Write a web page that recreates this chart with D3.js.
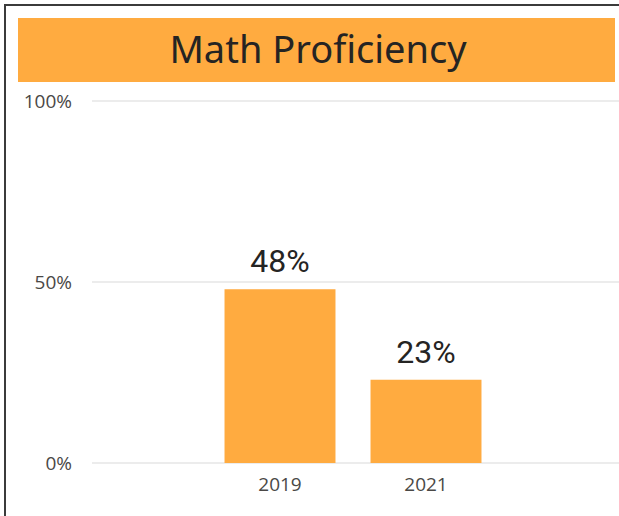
<!DOCTYPE html>
<html>
<head>
<meta charset="utf-8">
<script src="https://cdn.jsdelivr.net/npm/d3@7"></script>
<style>
  body { margin: 0; background: #fff; }
  svg { display: block; }
</style>
</head>
<body>
<svg id="chart"></svg>
<script>
const title = "Math Proficiency";
const years = ["2019", "2021"];
const proficiency = [0.48, 0.23];
const yTicks = [0, 0.5, 1];

const W = 619, H = 516;
const orange = "#FFAB40";

const svg = d3.select("#chart")
    .attr("width", W)
    .attr("height", H);

// visual frame (only top and left edges are in view)
svg.append("path")
    .attr("d", `M5,${H} V5 H${W}`)
    .attr("fill", "none")
    .attr("stroke", "#3b3b3b")
    .attr("stroke-width", 2);

// title banner
svg.append("rect")
    .attr("x", 18)
    .attr("y", 18)
    .attr("width", 597)
    .attr("height", 64)
    .attr("fill", orange);

svg.append("text")
    .attr("x", 318)
    .attr("y", 63)
    .attr("text-anchor", "middle")
    .attr("font-family", "'Noto Sans', 'Open Sans', sans-serif")
    .attr("font-size", 38)
    .attr("fill", "#252423")
    .text(title);

// scales
const y = d3.scaleLinear()
    .domain([0, 1])
    .range([463, 101]);

const x = d3.scaleBand()
    .domain(years)
    .range([207, 499])
    .paddingInner(0.24)
    .paddingOuter(0.12);

// gridlines
svg.append("g")
    .selectAll("line")
    .data(yTicks)
    .join("line")
    .attr("x1", 92)
    .attr("x2", W)
    .attr("y1", d => y(d))
    .attr("y2", d => y(d))
    .attr("stroke", "#ececec")
    .attr("stroke-width", 2);

// y axis labels
const yAxis = svg.append("g")
    .attr("transform", "translate(72,0)")
    .call(d3.axisLeft(y).tickValues(yTicks).tickFormat(d3.format(".0%")).tickSize(0).tickPadding(0));
yAxis.select(".domain").remove();
yAxis.selectAll("text")
    .attr("font-family", "'Open Sans', sans-serif")
    .attr("font-size", 19)
    .attr("fill", "#4a4846");

// x axis labels
const xAxis = svg.append("g")
    .attr("transform", "translate(0,463)")
    .call(d3.axisBottom(x).tickSize(0).tickPadding(15));
xAxis.select(".domain").remove();
xAxis.selectAll("text")
    .attr("font-family", "'Open Sans', sans-serif")
    .attr("font-size", 19)
    .attr("fill", "#4a4846");

// bars
const data = years.map((yr, i) => ({ year: yr, value: proficiency[i] }));

svg.append("g")
    .selectAll("rect")
    .data(data)
    .join("rect")
    .attr("x", d => x(d.year))
    .attr("y", d => y(d.value))
    .attr("width", x.bandwidth())
    .attr("height", d => y(0) - y(d.value))
    .attr("fill", orange);

// data labels
svg.append("g")
    .selectAll("text")
    .data(data)
    .join("text")
    .attr("x", d => x(d.year) + x.bandwidth() / 2)
    .attr("y", d => y(d.value) - 17)
    .attr("text-anchor", "middle")
    .attr("font-family", "Roboto, sans-serif")
    .attr("font-size", 32)
    .attr("fill", "#252423")
    .text(d => d3.format(".0%")(d.value));
</script>
</body>
</html>
